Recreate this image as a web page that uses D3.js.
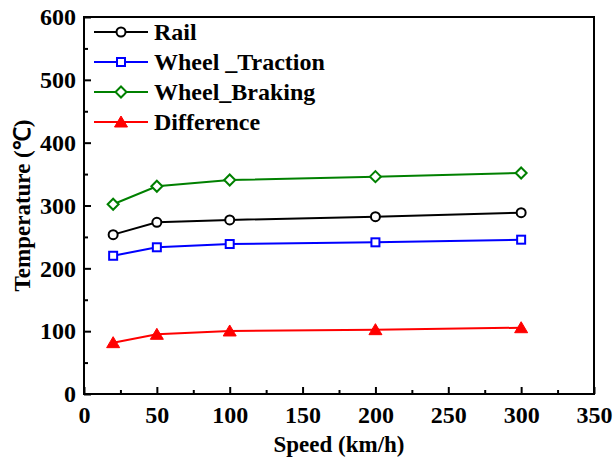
<!DOCTYPE html>
<html>
<head>
<meta charset="utf-8">
<script src="https://cdn.jsdelivr.net/npm/d3@7"></script>
<style>
  body { margin: 0; background: #fff; }
  text { font-family: "Liberation Serif", "Times New Roman", serif; font-weight: bold; }
</style>
</head>
<body>
<svg id="chart" width="614" height="461"></svg>
<script>
// data
const speeds = [20, 50, 100, 200, 300]
const rail = [253.6, 273.3, 277, 282.2, 288.6]
const wheelTraction = [220, 233.5, 238.7, 241.4, 245.6]
const wheelBraking = [302, 330.6, 340.6, 345.9, 351.7]
const difference = [81.7, 95, 100.3, 102.4, 105.5]
const xTicks = [0, 50, 100, 150, 200, 250, 300, 350]
const yTicks = [0, 100, 200, 300, 400, 500, 600]

const series = [
  {name: 'Rail', values: rail, color: '#000000', marker: 'circle'},
  {name: 'Wheel _Traction', values: wheelTraction, color: '#0000ff', marker: 'square'},
  {name: 'Wheel_Braking', values: wheelBraking, color: '#008000', marker: 'diamond'},
  {name: 'Difference', values: difference, color: '#ff0000', marker: 'triangle'}
]

const svg = d3.select('#chart')
const plotLeft = 84, plotRight = 594, plotTop = 17, plotBottom = 394

const xScale = d3.scaleLinear().domain([0, 350]).range([plotLeft, plotRight])
const yScale = d3.scaleLinear().domain([0, 600]).range([plotBottom, plotTop])

// minor ticks (inward)
const xMinor = d3.range(25, 350, 50)
const yMinor = d3.range(50, 600, 100)

svg.append('g')
  .attr('transform', `translate(0, ${plotBottom})`)
  .call(d3.axisBottom(xScale).tickValues(xMinor).tickSize(-4).tickFormat(''))
  .call(g => g.select('.domain').remove())
  .selectAll('line').attr('stroke-width', 2)

svg.append('g')
  .attr('transform', `translate(${plotLeft}, 0)`)
  .call(d3.axisLeft(yScale).tickValues(yMinor).tickSize(-4).tickFormat(''))
  .call(g => g.select('.domain').remove())
  .selectAll('line').attr('stroke-width', 2)

const xAxis = svg.append('g')
  .attr('transform', `translate(0, ${plotBottom})`)
  .call(d3.axisBottom(xScale).tickValues(xTicks).tickSize(-7).tickPadding(12))
xAxis.select('.domain').remove()
xAxis.selectAll('line').attr('stroke-width', 2)
xAxis.selectAll('text').attr('font-size', 24).attr('fill', '#000')
  .style('font-family', '"Liberation Serif", serif').style('font-weight', 'bold')

const yAxis = svg.append('g')
  .attr('transform', `translate(${plotLeft}, 0)`)
  .call(d3.axisLeft(yScale).tickValues(yTicks).tickSize(-7).tickPadding(8))
yAxis.select('.domain').remove()
yAxis.selectAll('line').attr('stroke-width', 2)
yAxis.selectAll('text').attr('font-size', 24).attr('fill', '#000')
  .style('font-family', '"Liberation Serif", serif').style('font-weight', 'bold')

// frame
svg.append('rect')
  .attr('x', plotLeft).attr('y', plotTop)
  .attr('width', plotRight - plotLeft).attr('height', plotBottom - plotTop)
  .attr('fill', 'none').attr('stroke', '#000').attr('stroke-width', 2)

// axis titles
svg.append('text')
  .attr('x', (plotLeft + plotRight) / 2)
  .attr('y', 452)
  .attr('text-anchor', 'middle')
  .attr('font-size', 23)
  .text('Speed (km/h)')

svg.append('text')
  .attr('transform', `translate(30, ${(plotTop + plotBottom) / 2}) rotate(-90)`)
  .attr('text-anchor', 'middle')
  .attr('font-size', 23)
  .text('Temperature (℃)')

function drawMarker(g, type, color) {
  if (type === 'circle') {
    g.append('circle').attr('r', 4.5)
      .attr('fill', '#fff').attr('stroke', color).attr('stroke-width', 2)
  } else if (type === 'square') {
    g.append('rect').attr('x', -4).attr('y', -4).attr('width', 8).attr('height', 8)
      .attr('fill', '#fff').attr('stroke', color).attr('stroke-width', 2)
  } else if (type === 'diamond') {
    g.append('path').attr('d', 'M0,-5.5L5.5,0L0,5.5L-5.5,0Z')
      .attr('fill', '#fff').attr('stroke', color).attr('stroke-width', 2)
  } else {
    g.append('path').attr('d', 'M0,-6L6.5,5L-6.5,5Z')
      .attr('fill', color).attr('stroke', color).attr('stroke-width', 1)
  }
}

const line = d3.line()
  .x((d, i) => xScale(speeds[i]))
  .y(d => yScale(d))

series.forEach(s => {
  svg.append('path')
    .datum(s.values)
    .attr('d', line)
    .attr('fill', 'none')
    .attr('stroke', s.color)
    .attr('stroke-width', 2)
  s.values.forEach((v, i) => {
    const g = svg.append('g').attr('transform', `translate(${xScale(speeds[i])}, ${yScale(v)})`)
    drawMarker(g, s.marker, s.color)
  })
})

// legend
const legend = svg.append('g')
series.forEach((s, i) => {
  const y = 32 + i * 30
  legend.append('line')
    .attr('x1', 94).attr('x2', 148).attr('y1', y).attr('y2', y)
    .attr('stroke', s.color).attr('stroke-width', 2)
  const g = legend.append('g').attr('transform', `translate(121, ${y})`)
  drawMarker(g, s.marker, s.color)
  legend.append('text')
    .attr('x', 154).attr('y', y + 8)
    .attr('font-size', 24)
    .text(s.name)
})
</script>
</body>
</html>
